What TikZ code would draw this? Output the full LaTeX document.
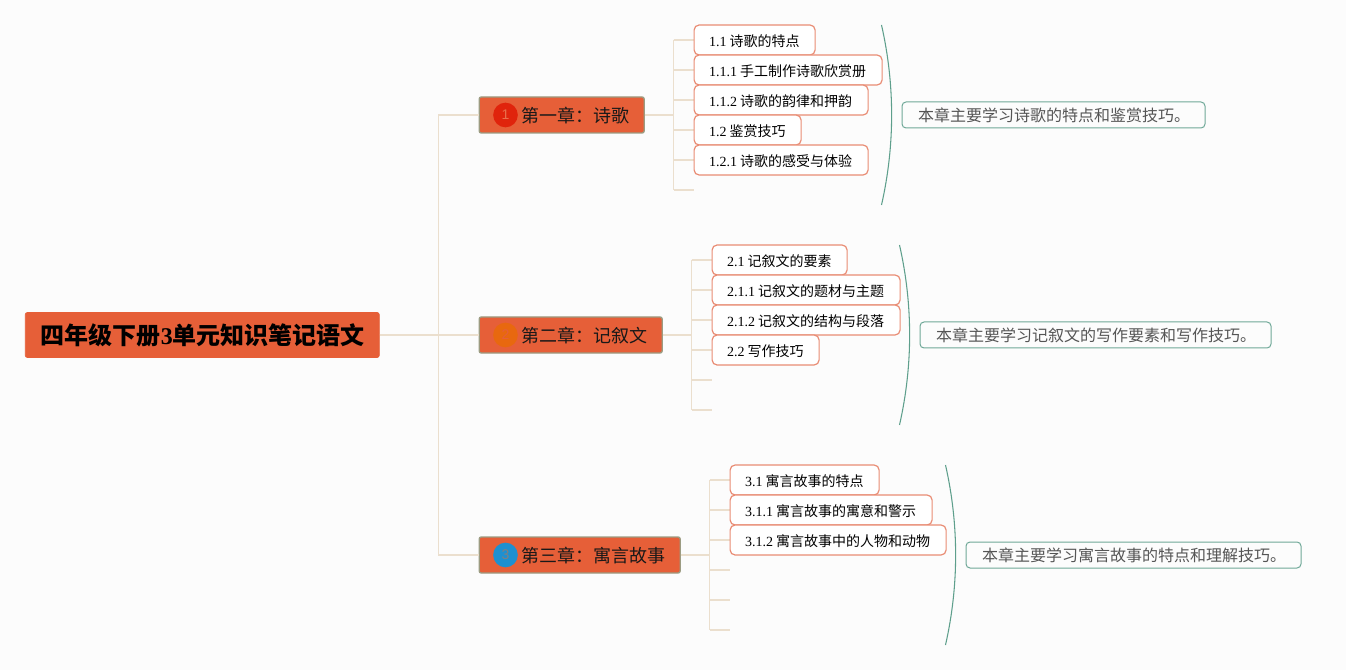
\documentclass[tikz,border=0pt]{standalone}
\usepackage{fontspec}
\usetikzlibrary{calc}
\setmainfont{Liberation Serif}
\newfontfamily\cjk{Noto Sans CJK SC}
\newfontfamily\badgefont{Liberation Sans}
\definecolor{bgc}{HTML}{FCFCFC}
\definecolor{orangeb}{HTML}{E65F38}
\definecolor{edgeb}{HTML}{9C9C82}
\definecolor{linkc}{HTML}{EBDFCE}
\definecolor{leafb}{HTML}{E98C74}
\definecolor{sumb}{HTML}{6FA898}
\definecolor{brack}{HTML}{5E9F8C}
\definecolor{sumt}{HTML}{555555}
\definecolor{badgea}{HTML}{E0240C}
\definecolor{badgeb}{HTML}{E8680F}
\definecolor{badgec}{HTML}{1E90D0}
\newcommand{\zh}[1]{{\cjk #1}}
\newcommand{\pad}[1]{\hspace*{0.75\dimexpr #1pt\relax}}
\newcommand{\gap}{\hspace{2.2pt}}
\tikzset{
  x=0.75pt,y=-0.75pt,
  boxw/.style={anchor=west,inner xsep=0pt,inner ysep=0pt,text width=#1*0.75pt,align=left},
  rootbox/.style={boxw=#1,minimum height=33.75pt,text height=16.5pt,text depth=2pt,fill=orangeb,draw=orangeb,line width=0.4pt,rounded corners=1.5pt,text=black,font=\fontsize{18pt}{20pt}\selectfont\bfseries},
  chapterbox/.style={boxw=#1,minimum height=27pt,text height=13.5pt,text depth=1.7pt,fill=orangeb,draw=edgeb,line width=1pt,rounded corners=1.5pt,text=black!90,font=\fontsize{13.5pt}{16pt}\selectfont},
  leafbox/.style={boxw=#1,minimum height=22.5pt,text height=11pt,text depth=1.5pt,fill=white,draw=leafb,line width=0.9pt,rounded corners=3.75pt,text=black,font=\fontsize{10.5pt}{13pt}\selectfont},
  sumbox/.style={boxw=#1,minimum height=19.5pt,fill=bgc,draw=sumb,line width=0.75pt,rounded corners=3pt,text=sumt,font=\fontsize{12pt}{14pt}\selectfont},
  badge/.style={circle,minimum size=18.5pt,inner sep=0pt,font=\badgefont\fontsize{10.5pt}{12pt}\selectfont},
  link/.style={draw=linkc,line width=1.3pt},
  brace/.style={draw=brack,line width=0.8pt},
}
\begin{document}
\begin{tikzpicture}
\fill[bgc] (0.5,0) rectangle (1346.5,670);
\useasboundingbox (0.5,0) rectangle (1346.5,670);

\coordinate (trunk) at (439,335);
\coordinate (sa) at (674,115);
\coordinate (sb) at (692,335);
\coordinate (sc) at (710,555);
\coordinate (a6) at (694,190);
\coordinate (b5) at (712,380);
\coordinate (b6) at (712,410);
\coordinate (c4) at (730,570);
\coordinate (c5) at (730,600);
\coordinate (c6) at (730,630);
\coordinate (ba0) at (882,25);
\coordinate (ba1) at (882,205);
\coordinate (bb0) at (900,245);
\coordinate (bb1) at (900,425);
\coordinate (bc0) at (946,465);
\coordinate (bc1) at (946,645);

\node[rootbox=354] (root) at (25.5,335) {\pad{15.5}\zh{四年级下册}3\zh{单元知识笔记语文}};
\node[chapterbox=165] (cha) at (479,115) {\pad{42}\zh{第一章：诗歌}};
\node[chapterbox=183] (chb) at (479,335) {\pad{42}\zh{第二章：记叙文}};
\node[chapterbox=201] (chc) at (479,555) {\pad{42}\zh{第三章：寓言故事}};
\node[badge,fill=badgea,text=orangeb!90!white] (ba) at (506,115) {1};
\node[badge,fill=badgeb,text=orangeb] (bb) at (506,335) {2};
\node[badge,fill=badgec,text=gray] (bc) at (506,555) {3};

\path[link] (root.east) -- (trunk) (trunk) |- (cha.west) (trunk) |- (chc.west) (trunk) -- (chb.west);
\path[link] (cha.east) -- (sa);
\path[link] (chb.east) -- (sb);
\path[link] (chc.east) -- (sc);

\coordinate (a1) at (694,40);
\coordinate (a2) at (694,70);
\coordinate (a3) at (694,100);
\coordinate (a4) at (694,130);
\coordinate (a5) at (694,160);
\coordinate (b1) at (712,260);
\coordinate (b2) at (712,290);
\coordinate (b3) at (712,320);
\coordinate (b4) at (712,350);
\coordinate (c1) at (730,480);
\coordinate (c2) at (730,510);
\coordinate (c3) at (730,540);

\foreach \t in {a1,a2,a3,a4,a5,a6}{\path[link] (sa |- \t) -- (\t);}
\foreach \t in {b1,b2,b3,b4,b5,b6}{\path[link] (sb |- \t) -- (\t);}
\foreach \t in {c1,c2,c3,c4,c5,c6}{\path[link] (sc |- \t) -- (\t);}
\path[link] (sa |- a1) -- (sa |- a6);
\path[link] (sb |- b1) -- (sb |- b6);
\path[link] (sc |- c1) -- (sc |- c6);

\node[leafbox=121] (la) at (a1) {\pad{15}1.1\gap\zh{诗歌的特点}};
\node[leafbox=188] (lb) at (a2) {\pad{15}1.1.1\gap\zh{手工制作诗歌欣赏册}};
\node[leafbox=174] (lc) at (a3) {\pad{15}1.1.2\gap\zh{诗歌的韵律和押韵}};
\node[leafbox=107] (ld) at (a4) {\pad{15}1.2\gap\zh{鉴赏技巧}};
\node[leafbox=174] (le) at (a5) {\pad{15}1.2.1\gap\zh{诗歌的感受与体验}};

\node[leafbox=135] (ma) at (b1) {\pad{15}2.1\gap\zh{记叙文的要素}};
\node[leafbox=188] (mb) at (b2) {\pad{15}2.1.1\gap\zh{记叙文的题材与主题}};
\node[leafbox=188] (mc) at (b3) {\pad{15}2.1.2\gap\zh{记叙文的结构与段落}};
\node[leafbox=107] (md) at (b4) {\pad{15}2.2\gap\zh{写作技巧}};

\node[leafbox=149] (na) at (c1) {\pad{15}3.1\gap\zh{寓言故事的特点}};
\node[leafbox=202] (nb) at (c2) {\pad{15}3.1.1\gap\zh{寓言故事的寓意和警示}};
\node[leafbox=216] (nc) at (c3) {\pad{15}3.1.2\gap\zh{寓言故事中的人物和动物}};

\node[sumbox=303] (sua) at (902,115) {\pad{16}\zh{本章主要学习诗歌的特点和鉴赏技巧。}};
\node[sumbox=351] (sub) at (920,335) {\pad{16}\zh{本章主要学习记叙文的写作要素和写作技巧。}};
\node[sumbox=335] (suc) at (966,555) {\pad{16}\zh{本章主要学习寓言故事的特点和理解技巧。}};

\path[brace] (ba0) .. controls ($(ba0)!0.33!(ba1)+(13.5,0)$) and ($(ba0)!0.67!(ba1)+(13.5,0)$) .. (ba1);
\path[brace] (bb0) .. controls ($(bb0)!0.33!(bb1)+(13.5,0)$) and ($(bb0)!0.67!(bb1)+(13.5,0)$) .. (bb1);
\path[brace] (bc0) .. controls ($(bc0)!0.33!(bc1)+(13.5,0)$) and ($(bc0)!0.67!(bc1)+(13.5,0)$) .. (bc1);
\end{tikzpicture}
\end{document}
